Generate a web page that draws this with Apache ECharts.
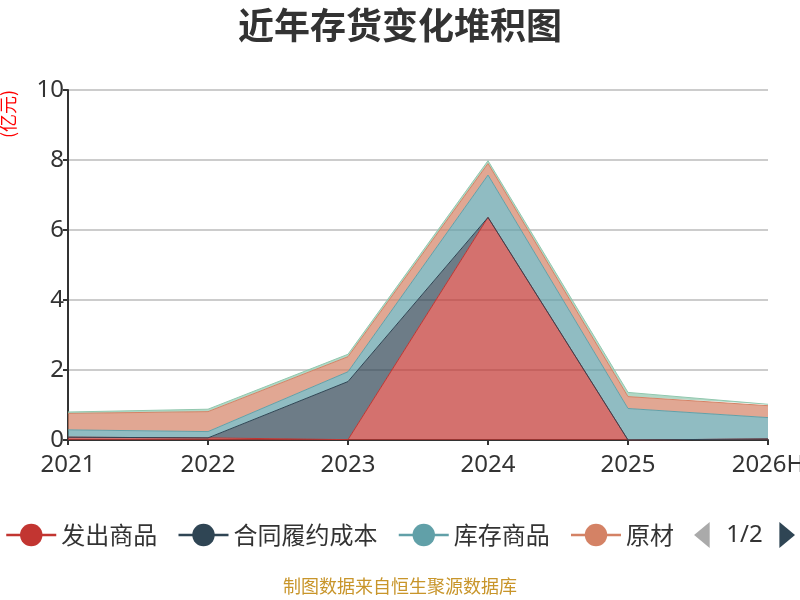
<!DOCTYPE html>
<html>
<head>
<meta charset="utf-8">
<script src="https://cdn.jsdelivr.net/npm/echarts@6/dist/echarts.min.js"></script>
<style>
  html, body { margin: 0; padding: 0; background: #fff; }
  #main { width: 800px; height: 600px; }
</style>
</head>
<body>
<div id="main"></div>
<script>
// 年份
var years = ['2021', '2022', '2023', '2024', '2025', '2026H'];

// 各类存货（亿元），自下而上堆积
var faChuShangPin = [0.08, 0.06, 0.01, 6.36, 0, 0.03];
var heTongLvYue = [0, 0, 1.66, 0, 0, 0];
var kuCunShangPin = [0.21, 0.18, 0.28, 1.21, 0.90, 0.61];
var yuanCaiLiao = [0.47, 0.57, 0.43, 0.33, 0.34, 0.34];
var zaiChanPin = [0.04, 0.07, 0.07, 0.08, 0.12, 0.04];

var seriesNames = ['发出商品', '合同履约成本', '库存商品', '原材料', '在产品'];
var seriesData = [faChuShangPin, heTongLvYue, kuCunShangPin, yuanCaiLiao, zaiChanPin];
var colors = ['#c23531', '#2f4554', '#61a0a8', '#d48265', '#91c7ae'];

var fontFamily = '"Noto Sans", "Noto Sans CJK SC", sans-serif';

var myChart = echarts.init(document.getElementById('main'));

var series = seriesNames.map(function (name, i) {
    return {
        name: name,
        type: 'line',
        stack: '总量',
        symbol: 'circle',
        showSymbol: false,
        lineStyle: { width: 1 },
        areaStyle: { opacity: 0.7 },
        data: seriesData[i]
    };
});

var option = {
    color: colors,
    textStyle: { fontFamily: fontFamily },
    title: {
        text: '近年存货变化堆积图',
        left: 'center',
        top: 2,
        textStyle: {
            fontSize: 36,
            fontWeight: 'bold',
            color: '#333',
            fontFamily: '"Noto Sans CJK SC", sans-serif'
        }
    },
    legend: {
        type: 'scroll',
        left: 0,
        right: 0,
        top: 517,
        itemWidth: 50,
        itemHeight: 28,
        itemGap: 20,
        lineStyle: { width: 2.5 },
        textStyle: { fontSize: 24, color: '#333', fontFamily: '"Noto Sans CJK SC", sans-serif' },
        pageIconSize: [16, 26],
        pageIconColor: '#2f4554',
        pageIconInactiveColor: '#aaa',
        pageTextStyle: { fontSize: 24, color: '#333', fontFamily: fontFamily },
        data: seriesNames
    },
    grid: {
        left: 68,
        right: 32,
        top: 90,
        bottom: 160,
        outerBoundsMode: 'none'
    },
    xAxis: {
        type: 'category',
        boundaryGap: false,
        data: years,
        axisLine: { lineStyle: { color: '#333', width: 2 } },
        axisTick: { show: true, lineStyle: { color: '#333', width: 2 } },
        axisLabel: { fontSize: 24, color: '#333', margin: 13, fontFamily: fontFamily }
    },
    yAxis: {
        type: 'value',
        min: 0,
        max: 10,
        interval: 2,
        axisLine: { show: true, lineStyle: { color: '#333', width: 2 } },
        axisTick: { show: true, lineStyle: { color: '#333', width: 2 } },
        axisLabel: { fontSize: 24, color: '#333', margin: 4, fontFamily: fontFamily },
        splitLine: { lineStyle: { color: '#ccc', width: 2 } }
    },
    graphic: [
        {
            type: 'text',
            x: -1,
            y: 138,
            rotation: Math.PI / 2,
            style: {
                text: '(亿元)',
                fill: '#ff0000',
                fontSize: 18,
                fontFamily: '"Noto Sans CJK SC", sans-serif',
                textVerticalAlign: 'top'
            }
        },
        {
            type: 'text',
            left: 'center',
            top: 577,
            style: {
                text: '制图数据来自恒生聚源数据库',
                fill: '#c8952a',
                fontSize: 18,
                fontFamily: '"Noto Sans CJK SC", sans-serif'
            }
        }
    ],
    series: series
};

myChart.setOption(option);
</script>
</body>
</html>
